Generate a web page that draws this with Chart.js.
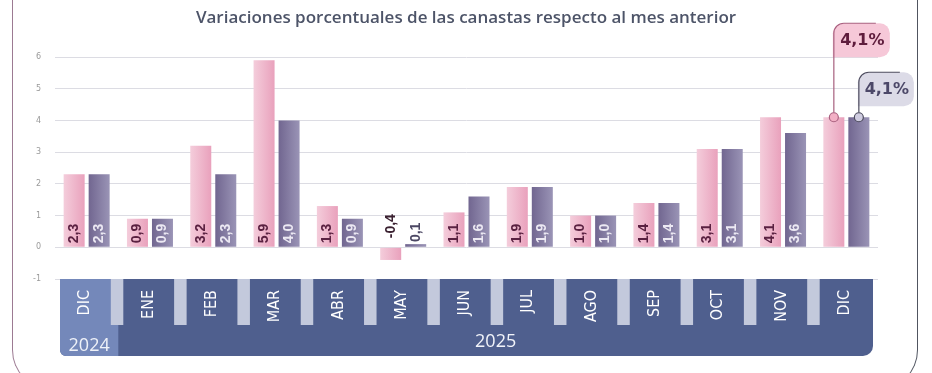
<!DOCTYPE html>
<html>
<head>
<meta charset="utf-8">
<script src="https://cdn.jsdelivr.net/npm/chart.js@4"></script>
<style>
  html, body { margin: 0; padding: 0; background: #fff; overflow: hidden; }
  #wrap { position: relative; width: 932px; height: 373px; }
  #frame {
    position: absolute; left: 12px; top: -40px; width: 906px; height: 430px;
    border: 1px solid #505560; border-left-color: #9c7a92; border-radius: 40px;
    box-sizing: border-box; pointer-events: none;
  }
</style>
</head>
<body>
<div id="wrap">
  <canvas id="chart" width="932" height="373"></canvas>
  <div id="frame"></div>
</div>
<script>
// data
const chartTitle = 'Variaciones porcentuales de las canastas respecto al mes anterior';
const months = ['DIC', 'ENE', 'FEB', 'MAR', 'ABR', 'MAY', 'JUN', 'JUL', 'AGO', 'SEP', 'OCT', 'NOV', 'DIC'];
const yearLabels = ['2024', '2025'];
const yearMonthCounts = [1, 12];
const cbaValues = [2.3, 0.9, 3.2, 5.9, 1.3, -0.4, 1.1, 1.9, 1.0, 1.4, 3.1, 4.1, 4.1];
const cbtValues = [2.3, 0.9, 2.3, 4.0, 0.9, 0.1, 1.6, 1.9, 1.0, 1.4, 3.1, 3.6, 4.1];
const yTicks = [-1, 0, 1, 2, 3, 4, 5, 6];

const CAT_PCT = 0.79;
const BAR_PCT = 0.84;

function fmt(v) {
    return v.toFixed(1).replace('.', ',');
}

function barGradient(ctx, dsIndex, left, right) {
    const chart = ctx.chart;
    if (!chart.chartArea || ctx.dataIndex === undefined) return right;
    const x = chart.scales.x;
    const center = x.getPixelForValue(ctx.dataIndex);
    const slot = (x.width / months.length) * CAT_PCT / 2;
    const barCenter = center + (dsIndex === 0 ? -slot / 2 : slot / 2);
    const half = slot * BAR_PCT / 2;
    const g = chart.ctx.createLinearGradient(barCenter - half, 0, barCenter + half, 0);
    g.addColorStop(0, left);
    g.addColorStop(1, right);
    return g;
}

function rotatedText(ctx, text, x, y, align) {
    ctx.save();
    ctx.translate(x, y);
    ctx.rotate(-Math.PI / 2);
    ctx.textAlign = align;
    ctx.textBaseline = 'middle';
    ctx.fillText(text, 0, 0);
    ctx.restore();
}

// title centred on the whole canvas
const titlePlugin = {
    id: 'pageTitle',
    afterDraw(chart) {
        const ctx = chart.ctx;
        ctx.save();
        ctx.fillStyle = '#4d5468';
        ctx.font = "600 17px 'Open Sans', sans-serif";
        ctx.textAlign = 'center';
        ctx.textBaseline = 'middle';
        ctx.fillText(chartTitle, chart.width / 2, 18);
        ctx.restore();
    }
};

// month / year band under the plot
const bandPlugin = {
    id: 'band',
    afterDraw(chart) {
        const ctx = chart.ctx;
        const x = chart.scales.x;
        const area = chart.chartArea;
        const left = area.left + 5, right = area.right - 5;
        const top = area.bottom, monthBottom = top + 46, bottom = top + 77;
        const catW = x.width / months.length;

        ctx.save();
        ctx.fillStyle = '#4f5f8e';
        ctx.beginPath();
        ctx.roundRect(left, top, right - left, bottom - top, [0, 0, 10, 6]);
        ctx.fill();

        // first year block, lighter
        const firstEnd = x.getPixelForValue(yearMonthCounts[0] - 1) + catW / 2;
        ctx.fillStyle = '#7488ba';
        ctx.beginPath();
        ctx.roundRect(left, top, firstEnd - left, bottom - top, [0, 0, 0, 6]);
        ctx.fill();

        // separators between months
        ctx.fillStyle = '#c3c9dc';
        for (let i = 0; i < months.length - 1; i++) {
            const b = x.getPixelForValue(i) + catW / 2;
            ctx.fillRect(b - 7.5, top, 12.5, monthBottom - top);
        }

        // month labels
        ctx.fillStyle = '#ffffff';
        ctx.font = "16px 'Liberation Sans Narrow', 'DejaVu Sans Condensed', sans-serif";
        months.forEach((m, i) => {
            rotatedText(ctx, m, x.getPixelForValue(i) - 1.5, top + 11, 'right');
        });

        // year labels
        ctx.font = "18px 'Open Sans', sans-serif";
        ctx.textAlign = 'center';
        ctx.textBaseline = 'middle';
        let start = 0;
        yearLabels.forEach((yl, k) => {
            const end = start + yearMonthCounts[k] - 1;
            const l = k === 0 ? left : x.getPixelForValue(start) - catW / 2;
            const r = k === yearLabels.length - 1 ? right : x.getPixelForValue(end) + catW / 2;
            ctx.fillStyle = k === 0 ? '#eef1f8' : '#f2f4fa';
            ctx.fillText(yl, (l + r) / 2, k === 0 ? top + 67 : top + 63);
            start = end + 1;
        });
        ctx.restore();
    }
};

// value labels inside / above bars
const valueLabelPlugin = {
    id: 'valueLabels',
    afterDatasetsDraw(chart) {
        const ctx = chart.ctx;
        const y = chart.scales.y;
        const zero = y.getPixelForValue(0);
        const series = [cbaValues, cbtValues];
        const inside = ['#5a2141', '#ece9f3'];
        const outside = ['#3a2030', '#4b4763'];
        ctx.save();
        ctx.font = "bold 14px 'Liberation Sans', Arial, sans-serif";
        series.forEach((vals, d) => {
            chart.getDatasetMeta(d).data.forEach((bar, i) => {
                if (i === months.length - 1) return;
                const v = vals[i];
                let yStart;
                if (v < 0) {
                    yStart = zero - 9;
                    ctx.fillStyle = outside[d];
                } else if (v < 0.5) {
                    yStart = y.getPixelForValue(v) - 2;
                    ctx.fillStyle = outside[d];
                } else {
                    yStart = zero - 4;
                    ctx.fillStyle = inside[d];
                }
                rotatedText(ctx, fmt(v), bar.x, yStart, 'left');
            });
        });
        ctx.restore();
    }
};

// callouts on the last month
const calloutPlugin = {
    id: 'callouts',
    afterDatasetsDraw(chart) {
        const ctx = chart.ctx;
        const last = months.length - 1;
        const specs = [
            { vals: cbaValues, rise: 94, w: 57, fill: '#f6c8d8', line: '#a8607f', dot: '#f2afc5', text: '#5e1c3c' },
            { vals: cbtValues, rise: 45, w: 56, fill: '#dcdbe7', line: '#4d4c5e', dot: '#cfcce0', text: '#4c4868' }
        ];
        ctx.save();
        specs.forEach((s, d) => {
            const bar = chart.getDatasetMeta(d).data[last];
            const cx = bar.x, cy = bar.y;
            const bx = cx - 1, by = cy - s.rise, h = 34, r = 10;
            ctx.fillStyle = s.fill;
            ctx.beginPath();
            ctx.roundRect(bx, by, s.w, h, [r, r, r, 0]);
            ctx.fill();

            ctx.strokeStyle = s.line;
            ctx.lineWidth = 1.2;
            ctx.beginPath();
            ctx.moveTo(cx, cy - 4.5);
            ctx.lineTo(cx, by + r);
            ctx.arcTo(cx, by, cx + r, by, r);
            ctx.lineTo(bx + s.w - 14, by);
            ctx.stroke();

            ctx.fillStyle = s.dot;
            ctx.beginPath();
            ctx.arc(cx, cy, 4.5, 0, Math.PI * 2);
            ctx.fill();
            ctx.stroke();

            ctx.fillStyle = s.text;
            ctx.font = "bold 16px 'DejaVu Sans', sans-serif";
            ctx.textAlign = 'center';
            ctx.textBaseline = 'middle';
            ctx.fillText(fmt(s.vals[last]) + '%', bx + s.w / 2 + 1, by + h / 2 + 1);
        });
        ctx.restore();
    }
};

new Chart(document.getElementById('chart'), {
    type: 'bar',
    data: {
        labels: months,
        datasets: [
            {
                label: 'CBA',
                data: cbaValues,
                backgroundColor: (c) => barGradient(c, 0, '#f4cddb', '#e9a1bc'),
                categoryPercentage: CAT_PCT,
                barPercentage: BAR_PCT
            },
            {
                label: 'CBT',
                data: cbtValues,
                backgroundColor: (c) => barGradient(c, 1, '#716690', '#9a94b6'),
                categoryPercentage: CAT_PCT,
                barPercentage: BAR_PCT
            }
        ]
    },
    options: {
        responsive: false,
        animation: false,
        layout: { padding: { left: 0, right: 54, top: 57, bottom: 94 } },
        plugins: {
            legend: { display: false },
            tooltip: { enabled: false },
            title: { display: false }
        },
        scales: {
            x: { display: false },
            y: {
                min: -1,
                max: 6,
                afterFit(scale) { scale.width = 55; },
                afterBuildTicks(scale) { scale.ticks = yTicks.map(v => ({ value: v })); },
                border: { display: false },
                grid: { color: '#dcdce3', drawTicks: false },
                ticks: {
                    padding: 14,
                    color: '#9a9a9a',
                    font: { family: "'DejaVu Sans', sans-serif", size: 8 }
                }
            }
        }
    },
    plugins: [bandPlugin, valueLabelPlugin, calloutPlugin, titlePlugin]
});
</script>
</body>
</html>
